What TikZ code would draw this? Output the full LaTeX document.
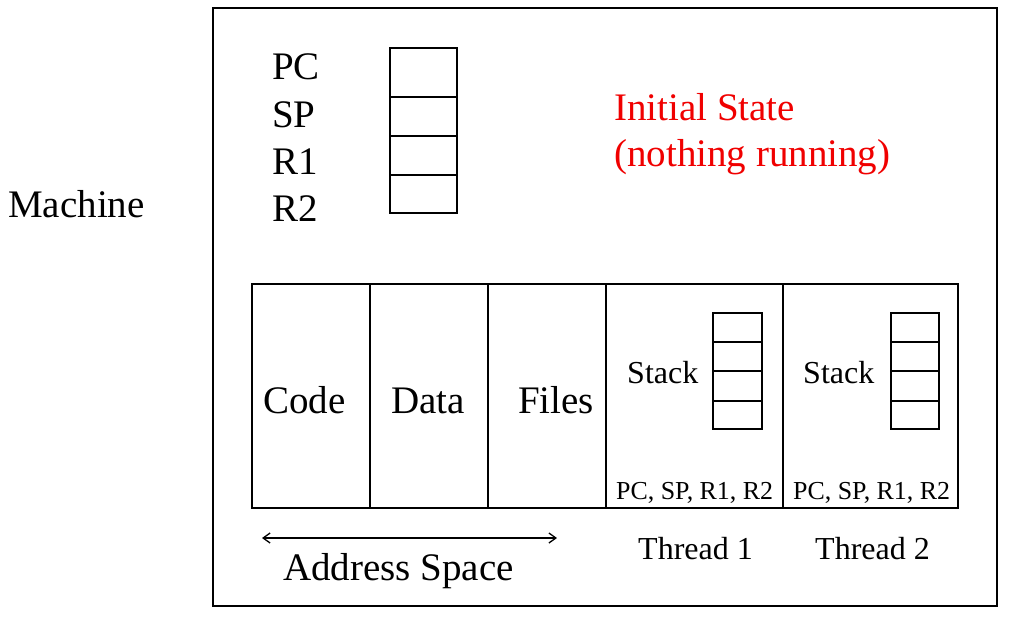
\documentclass[tikz,border=0pt]{standalone}
\usepackage{fontspec}
\setmainfont{Liberation Serif}
\usetikzlibrary{arrows.meta}
\begin{document}
\begin{tikzpicture}[x=1pt,y=-1pt,
  box/.style={draw=black,line width=1.4pt},
  big/.style={inner sep=0pt,anchor=base west,font=\fontsize{39}{45}\selectfont},
  mid/.style={inner sep=0pt,anchor=base west,font=\fontsize{32}{38}\selectfont},
  small/.style={inner sep=0pt,anchor=base west,font=\fontsize{25.9}{30}\selectfont},
  red/.style={text={rgb,255:red,240;green,0;blue,0}}]
\useasboundingbox (0,0) rectangle (1014,618);
% machine
\draw[box] (213,8) rectangle (997,606);
\node[big] (machine) at (8,217) {Machine};
% registers
\node[big] (pc) at (272,79) {PC};
\node[big] (sp) at (272,127) {SP};
\node[big] (r1) at (272,174) {R1};
\node[big] (r2) at (272,221) {R2};
\draw[box] (390,48) rectangle (457,213);
\draw[box] (390,97) -- (457,97) (390,136) -- (457,136) (390,175) -- (457,175);
% initial state
\node[big,red] (init1) at (614,120) {Initial State};
\node[big,red] (init2) at (614,166) {(nothing running)};
% bottom box
\draw[box] (252,284) rectangle (958,508);
\draw[box] (370,284) -- (370,508) (488,284) -- (488,508) (606,284) -- (606,508) (783,284) -- (783,508);
\node[big] (code) at (263,413) {Code};
\node[big] (data) at (391,413) {Data};
\node[big] (files) at (518,413) {Files};
% thread 1
\node[mid] (stack1) at (627,383) {Stack};
\draw[box] (713,313) rectangle (762,429);
\draw[box] (713,342) -- (762,342) (713,371) -- (762,371) (713,401) -- (762,401);
\node[small] (regs1) at (616,499) {PC, SP, R1, R2};
\node[mid] (thread1) at (638,559) {Thread 1};
% thread 2
\node[mid] (stack2) at (803,383) {Stack};
\draw[box] (891,313) rectangle (939,429);
\draw[box] (891,342) -- (939,342) (891,371) -- (939,371) (891,401) -- (939,401);
\node[small] (regs2) at (793,499) {PC, SP, R1, R2};
\node[mid] (thread2) at (815,559) {Thread 2};
% address space
\coordinate (asl) at (262,538);
\coordinate (asr) at (557,538);
\draw[line width=1.3pt,{Straight Barb[length=7pt,width=10pt]}-{Straight Barb[length=7pt,width=10pt]}] (asl) -- (asr);
\node[big] (addr) at (283,580) {Address Space};
\end{tikzpicture}
\end{document}
